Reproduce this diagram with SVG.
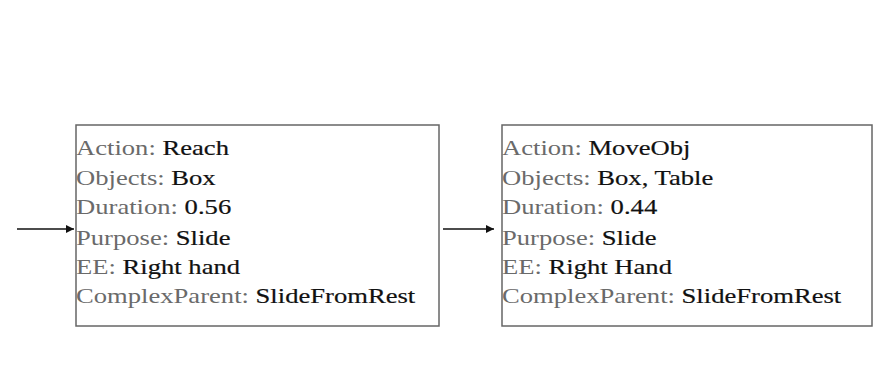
<svg xmlns="http://www.w3.org/2000/svg" width="878" height="385" viewBox="0 0 878 385">
<style>
.box{fill:#fff;stroke:#666;stroke-width:1.5}
.t{font-family:"Liberation Serif","Times New Roman",serif;font-size:22px}
.k{fill:#6a6a6a}
.v{fill:#111;stroke:#111;stroke-width:0.2}
.c{stroke:#111;stroke-width:1.3;fill:none}
</style>
<defs>
<marker id="ah" viewBox="0 0 10 10" refX="10" refY="5" markerWidth="8" markerHeight="8" markerUnits="userSpaceOnUse" orient="auto">
<path d="M0,0 L10,5 L0,10 z" fill="#111"/>
</marker>
</defs>
<rect width="878" height="385" fill="#fff"/>
<g id="connectors">
<line class="c" x1="17" y1="229" x2="74" y2="229" marker-end="url(#ah)"/>
<line class="c" x1="443" y1="229" x2="494" y2="229" marker-end="url(#ah)"/>
</g>
<g id="node-reach">
<rect class="box" x="76" y="125" width="363" height="201"/>
<g transform="translate(76,0) scale(1.21,1)">
<text class="t" x="0" y="155"><tspan class="k">Action: </tspan><tspan class="v">Reach</tspan></text>
<text class="t" x="0" y="185"><tspan class="k">Objects: </tspan><tspan class="v">Box</tspan></text>
<text class="t" x="0" y="214"><tspan class="k">Duration: </tspan><tspan class="v">0.56</tspan></text>
<text class="t" x="0" y="245"><tspan class="k">Purpose: </tspan><tspan class="v">Slide</tspan></text>
<text class="t" x="0" y="274"><tspan class="k">EE: </tspan><tspan class="v">Right hand</tspan></text>
<text class="t" x="0" y="303"><tspan class="k">ComplexParent: </tspan><tspan class="v">SlideFromRest</tspan></text>
</g>
</g>
<g id="node-moveobj">
<rect class="box" x="502" y="125" width="370" height="201"/>
<g transform="translate(502,0) scale(1.21,1)">
<text class="t" x="0" y="155"><tspan class="k">Action: </tspan><tspan class="v">MoveObj</tspan></text>
<text class="t" x="0" y="185"><tspan class="k">Objects: </tspan><tspan class="v">Box, Table</tspan></text>
<text class="t" x="0" y="214"><tspan class="k">Duration: </tspan><tspan class="v">0.44</tspan></text>
<text class="t" x="0" y="245"><tspan class="k">Purpose: </tspan><tspan class="v">Slide</tspan></text>
<text class="t" x="0" y="274"><tspan class="k">EE: </tspan><tspan class="v">Right Hand</tspan></text>
<text class="t" x="0" y="303"><tspan class="k">ComplexParent: </tspan><tspan class="v">SlideFromRest</tspan></text>
</g>
</g>
</svg>
